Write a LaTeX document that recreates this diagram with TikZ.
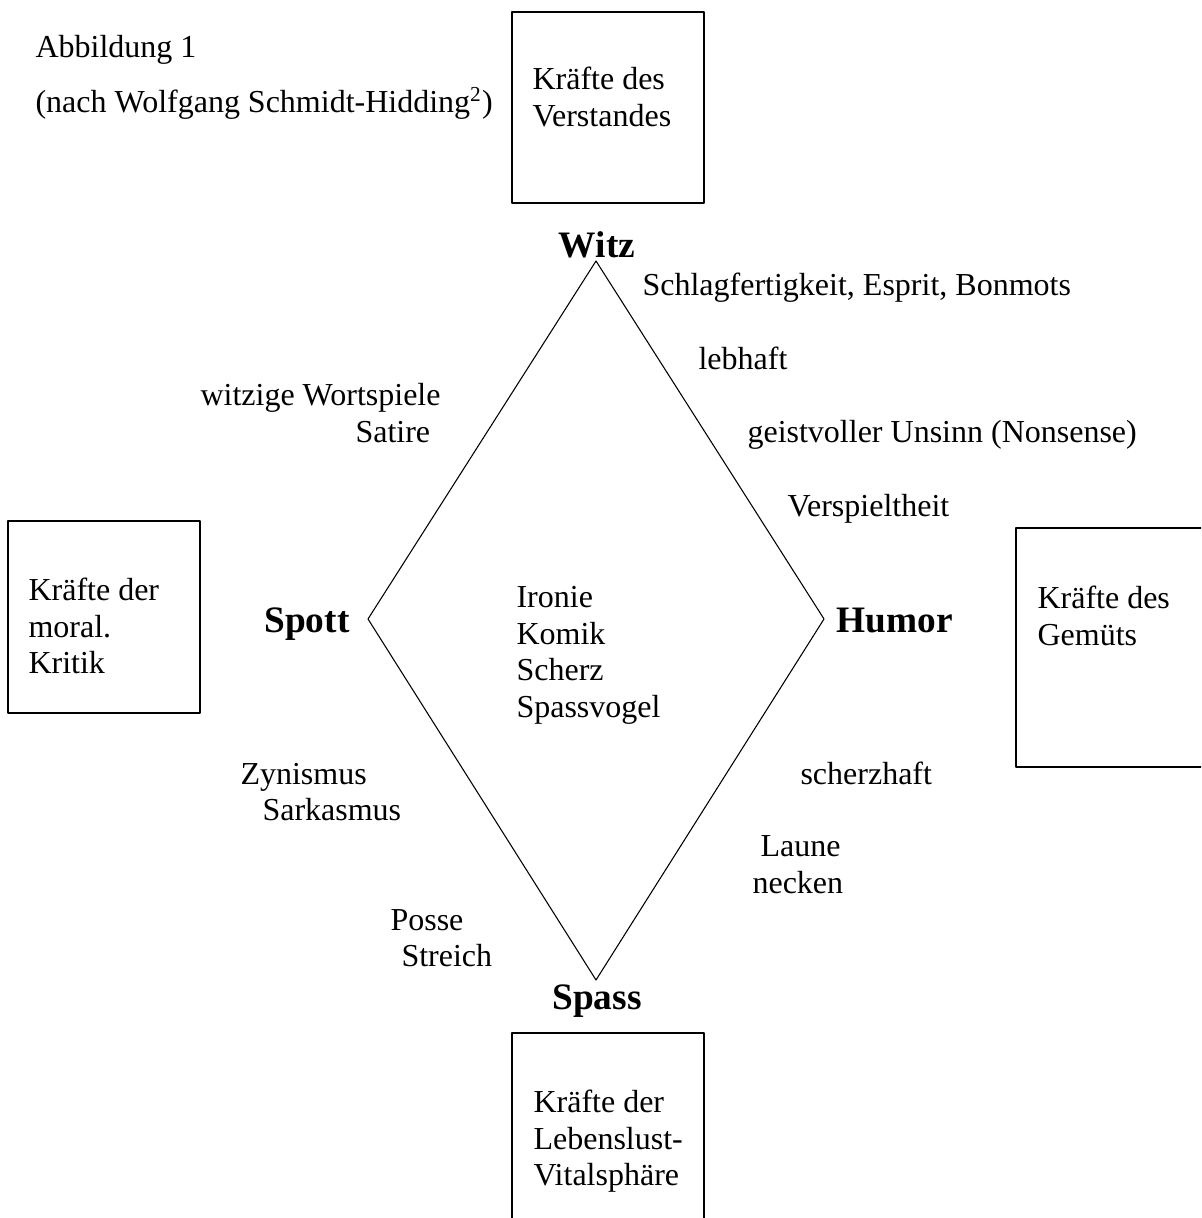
\documentclass[tikz,border=0pt]{standalone}
\usepackage{fontspec}
\setmainfont{Liberation Serif}
\begin{document}
\begin{tikzpicture}[x=0.375pt,y=-0.375pt,line cap=round,line join=round,
  every node/.style={font=\fontsize{12}{13.8}\selectfont,inner sep=0pt,anchor=base west},
  pole/.style={font=\fontsize{14}{16}\selectfont\bfseries,anchor=base},
  kbox/.style={line width=0.75pt}]
  \useasboundingbox (0,0) rectangle (1201,1218);
  \clip (0,0) rectangle (1201,1218);
  % Title at top left
  \node (abb) at (35,58) {Abbildung 1};
  \node (quelle) at (35,113) {(nach Wolfgang Schmidt-Hidding\textsuperscript{2})};

  % The four boxes of forces (right and bottom ones run off the page)
  \draw[kbox] (512,12) rectangle (704,203);
  \draw[kbox] (8,521) rectangle (200,713);
  \draw[kbox] (1016,528) rectangle (1260,767);
  \draw[kbox] (512,1033) rectangle (704,1260);
  \node (verst1) at (532,90) {Kräfte des};
  \node (verst2) at (532,127) {Verstandes};
  \node (moral1) at (28,600) {Kräfte der};
  \node (moral2) at (28,637) {moral.};
  \node (moral3) at (28,673) {Kritik};
  \node (gemuet1) at (1037,608) {Kräfte des};
  \node (gemuet2) at (1037,645) {Gemüts};
  \node (vital1) at (533,1112) {Kräfte der};
  \node (vital2) at (533,1149) {Lebenslust-};
  \node (vital3) at (533,1185) {Vitalsphäre};

  % Diamond
  \coordinate (witzpt) at (596,261);
  \coordinate (humorpt) at (824,619);
  \coordinate (spasspt) at (596,980);
  \coordinate (spottpt) at (368,619);
  \draw[line width=0.4pt] (witzpt)--(humorpt)--(spasspt)--(spottpt)--cycle;
  \node[pole] (witz) at (597,258) {Witz};
  \node[pole] (humor) at (895,632) {Humor};
  \node[pole] (spass) at (597,1009) {Spass};
  \node[pole] (spott) at (307,632) {Spott};

  % Labels along the edges
  \node (schlag) at (642,296) {Schlagfertigkeit, Esprit, Bonmots};
  \node (lebhaft) at (698,370) {lebhaft};
  \node (unsinn) at (747,443) {geistvoller Unsinn (Nonsense)};
  \node (verspiel) at (787,516) {Verspieltheit};
  \node (wortsp) at (200,406) {witzige Wortspiele};
  \node (satire) at (355,443) {Satire};
  \node (zynism) at (240,784) {Zynismus};
  \node (sarkasm) at (262,820) {Sarkasmus};
  \node (posse) at (390,930) {Posse};
  \node (streich) at (401,966) {Streich};
  \node (scherzh) at (800,784) {scherzhaft};
  \node (laune) at (760,856) {Laune};
  \node (necken) at (752,893) {necken};

  % Centre
  \node (ironie) at (516,607) {Ironie};
  \node (komik) at (516,644) {Komik};
  \node (scherz) at (516,680) {Scherz};
  \node (vogel) at (516,717) {Spassvogel};
\end{tikzpicture}
\end{document}
